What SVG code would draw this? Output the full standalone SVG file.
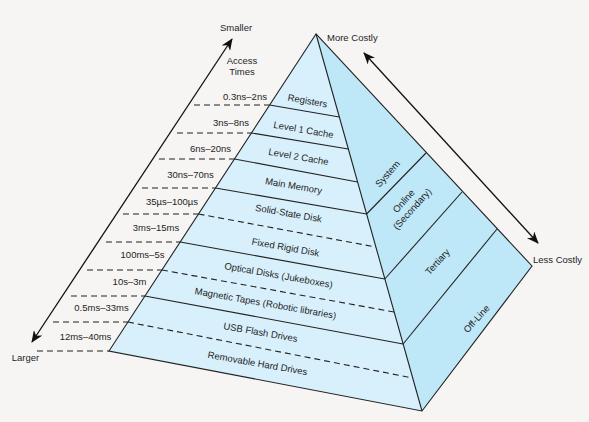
<svg xmlns="http://www.w3.org/2000/svg" width="589" height="422" viewBox="0 0 589 422">
<defs>
<marker id="ah" viewBox="0 0 12 10" refX="11" refY="5" markerWidth="12" markerHeight="10" markerUnits="userSpaceOnUse" orient="auto-start-reverse">
<path d="M0,0 L12,5 L0,10 L3.5,5 Z" fill="#111"/>
</marker>
<style>
text{font-family:"Liberation Sans",Arial,sans-serif;font-size:9.5px;fill:#1e1e1e}
.f{fill:#d8f0fb}
.r{fill:#bee7f8}
.s{stroke:#222;stroke-width:1.1;fill:none}
.d{stroke:#222;stroke-width:1.1;fill:none;stroke-dasharray:6 4}
.m{text-anchor:middle}
</style>
</defs>
<rect width="589" height="422" fill="#f6f5f3"/>

<g id="registers"><polygon class="f" points="316,34 269.6,105 339.3,117"/><text class="m" transform="translate(307,104) rotate(10)">Registers</text></g>
<g id="level1"><polygon class="f" points="269.6,105 251.4,133 348.3,149 339.3,117"/><text class="m" transform="translate(303,133) rotate(10)">Level 1 Cache</text></g>
<g id="level2"><polygon class="f" points="251.4,133 234.4,159 357.6,182 348.3,149"/><text class="m" transform="translate(298,160) rotate(10)">Level 2 Cache</text></g>
<g id="mainmemory"><polygon class="f" points="234.4,159 215.4,188 366.6,214 357.6,182"/><text class="m" transform="translate(293,189) rotate(10)">Main Memory</text></g>
<g id="ssd"><polygon class="f" points="215.4,188 198.5,214 375.9,247 366.6,214"/><text class="m" transform="translate(288,216.5) rotate(10)">Solid-State Disk</text></g>
<g id="fixeddisk"><polygon class="f" points="198.5,214 180.2,242 384.8,279 375.9,247"/><text class="m" transform="translate(285,250.5) rotate(10)">Fixed Rigid Disk</text></g>
<g id="optical"><polygon class="f" points="180.2,242 161.9,270 394.1,312 384.8,279"/><text class="m" transform="translate(278,278.5) rotate(10)">Optical Disks (Jukeboxes)</text></g>
<g id="tapes"><polygon class="f" points="161.9,270 144.9,296 403.1,344 394.1,312"/><text class="m" transform="translate(265,306.5) rotate(10)">Magnetic Tapes (Robotic libraries)</text></g>
<g id="usb"><polygon class="f" points="144.9,296 127.9,322 412.7,378 403.1,344"/><text class="m" transform="translate(260,335.5) rotate(10)">USB Flash Drives</text></g>
<g id="removable"><polygon class="f" points="127.9,322 109,351 422,411 412.7,378"/><text class="m" transform="translate(257,366.5) rotate(10)">Removable Hard Drives</text></g>

<g id="system"><polygon class="r" points="316,34 426,153 366.6,214"/><text class="m" transform="translate(390,176) rotate(-48)">System</text></g>
<g id="online"><polygon class="r" points="426,153 462,192 384.8,279 366.6,214"/><text class="m" transform="translate(408,205) rotate(-48)"><tspan x="0" y="-2.5">Online</tspan><tspan x="0" y="9">(Secondary)</tspan></text></g>
<g id="tertiary"><polygon class="r" points="462,192 497,229 403.1,344 384.8,279"/><text class="m" transform="translate(440,264) rotate(-48)">Tertiary</text></g>
<g id="offline"><polygon class="r" points="497,229 532,266 422,411 403.1,344"/><text class="m" transform="translate(479,321) rotate(-48)">Off-Line</text></g>

<g id="connectors">
<polygon class="s" points="316,34 109,351 422,411 532,266"/>
<line class="s" x1="316" y1="34" x2="422" y2="411"/>
<line class="s" x1="269.6" y1="105" x2="339.3" y2="117"/>
<line class="s" x1="251.4" y1="133" x2="348.3" y2="149"/>
<line class="s" x1="234.4" y1="159" x2="357.6" y2="182"/>
<line class="s" x1="215.4" y1="188" x2="366.6" y2="214"/>
<line class="d" x1="198.5" y1="214" x2="375.9" y2="247"/>
<line class="s" x1="180.2" y1="242" x2="384.8" y2="279"/>
<line class="d" x1="161.9" y1="270" x2="394.1" y2="312"/>
<line class="s" x1="144.9" y1="296" x2="403.1" y2="344"/>
<line class="d" x1="127.9" y1="322" x2="412.7" y2="378"/>
<line class="s" x1="426" y1="153" x2="366.6" y2="214"/>
<line class="s" x1="462" y1="192" x2="384.8" y2="279"/>
<line class="s" x1="497" y1="229" x2="403.1" y2="344"/>
<line class="d" x1="194" y1="105" x2="269.6" y2="105"/>
<line class="d" x1="177" y1="133" x2="251.4" y2="133"/>
<line class="d" x1="159" y1="159" x2="234.4" y2="159"/>
<line class="d" x1="142" y1="188" x2="215.4" y2="188"/>
<line class="d" x1="123" y1="214" x2="198.5" y2="214"/>
<line class="d" x1="106" y1="242" x2="180.2" y2="242"/>
<line class="d" x1="87" y1="270" x2="161.9" y2="270"/>
<line class="d" x1="71" y1="296" x2="144.9" y2="296"/>
<line class="d" x1="53" y1="322" x2="127.9" y2="322"/>
<line class="d" x1="37" y1="351" x2="109" y2="351"/>
<line x1="232" y1="39" x2="32" y2="342" stroke="#111" stroke-width="1.3" marker-start="url(#ah)" marker-end="url(#ah)"/>
<line x1="364" y1="53" x2="538" y2="243" stroke="#111" stroke-width="1.3" marker-start="url(#ah)" marker-end="url(#ah)"/>
</g>

<g id="labels">
<text class="m" x="236" y="30.5">Smaller</text>
<text class="m" x="242" y="63.5">Access</text>
<text class="m" x="242" y="75">Times</text>
<text class="m" x="25.5" y="360.5">Larger</text>
<text x="327" y="40.5">More Costly</text>
<text x="533" y="262.5">Less Costly</text>
<text class="m" x="245" y="99.5">0.3ns–2ns</text>
<text class="m" x="231" y="125.5">3ns–8ns</text>
<text class="m" x="210.5" y="151.5">6ns–20ns</text>
<text class="m" x="190.5" y="177.5">30ns–70ns</text>
<text class="m" x="172" y="204.5">35µs–100µs</text>
<text class="m" x="156" y="230.5">3ms–15ms</text>
<text class="m" x="142.5" y="257.5">100ms–5s</text>
<text class="m" x="129.5" y="284.5">10s–3m</text>
<text class="m" x="101.5" y="310.5">0.5ms–33ms</text>
<text class="m" x="85.5" y="340">12ms–40ms</text>
</g>
</svg>
